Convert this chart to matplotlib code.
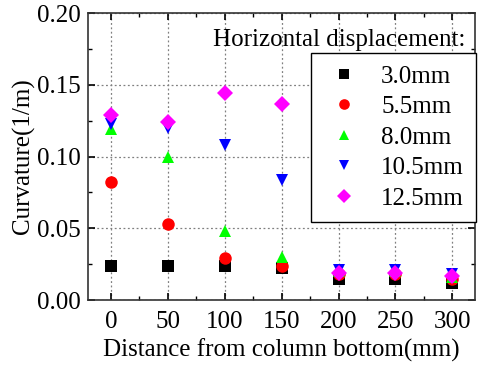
import matplotlib
matplotlib.use("Agg")
import matplotlib.pyplot as plt
from matplotlib.ticker import MultipleLocator, FormatStrFormatter

plt.rcParams["font.family"] = ["Liberation Serif", "DejaVu Serif"]

distance = [0, 50, 100, 150, 200, 250, 300]
labels = ["3.0mm", "5.5mm", "8.0mm", "10.5mm", "12.5mm"]
curv_30 = [0.024, 0.024, 0.024, 0.022, 0.015, 0.015, 0.012]
curv_55 = [0.082, 0.053, 0.029, 0.024, 0.018, 0.018, 0.015]
curv_80 = [0.119, 0.100, 0.048, 0.030, 0.020, 0.020, 0.016]
curv_105 = [0.123, 0.120, 0.108, 0.084, 0.021, 0.021, 0.018]
curv_125 = [0.129, 0.124, 0.144, 0.137, 0.019, 0.019, 0.017]

series = [curv_30, curv_55, curv_80, curv_105, curv_125]
markers = ["s", "o", "^", "v", "D"]
colors = ["black", "red", "#00ff00", "blue", "#ff00ff"]
sizes = [8, 9, 9, 9, 8]

fig = plt.figure(figsize=(4.79, 3.65), dpi=100)
ax = fig.add_axes([0.184, 0.178, 0.808, 0.786])

for vals, m, c, s, lab in zip(series, markers, colors, sizes, labels):
    ax.plot(distance, vals, linestyle="none", marker=m, color=c,
            markersize=s, markeredgewidth=0, label=lab)

ax.set_xlim(-20, 320)
ax.set_ylim(0, 0.20)
ax.xaxis.set_major_locator(MultipleLocator(50))
ax.xaxis.set_minor_locator(MultipleLocator(25))
ax.yaxis.set_major_locator(MultipleLocator(0.05))
ax.yaxis.set_minor_locator(MultipleLocator(0.025))
ax.yaxis.set_major_formatter(FormatStrFormatter("%.2f"))
ax.tick_params(which="both", direction="in", top=True, right=True, labelsize=18)
ax.tick_params(which="major", length=5, width=1.2)
ax.tick_params(axis="x", which="major", pad=8)
ax.tick_params(axis="y", which="major", pad=5)
ax.tick_params(which="minor", length=3, width=1.0)
for sp in ax.spines.values():
    sp.set_linewidth(1.2)
    sp.set_color("#333333")

ax.grid(True, which="major", linestyle=(0, (1.5, 2)), color="gray", linewidth=0.9)
ax.set_axisbelow(True)

ax.set_xlabel("Distance from column bottom(mm)", fontsize=18, labelpad=4)
ax.set_ylabel("Curvature(1/m)", fontsize=18, labelpad=2)

ax.text(0.975, 0.905, "Horizontal displacement:", transform=ax.transAxes,
        ha="right", va="center", fontsize=18, zorder=5)
leg = ax.legend(loc="upper right", bbox_to_anchor=(1.003, 0.862), fontsize=18,
                frameon=True, fancybox=False, edgecolor="black", framealpha=1,
                handletextpad=0.7, borderpad=0.5, labelspacing=0.32,
                handlelength=1.6, borderaxespad=0, markerscale=0.85)
leg.get_frame().set_linewidth(1.0)

fig.savefig("out.png", dpi=100)
